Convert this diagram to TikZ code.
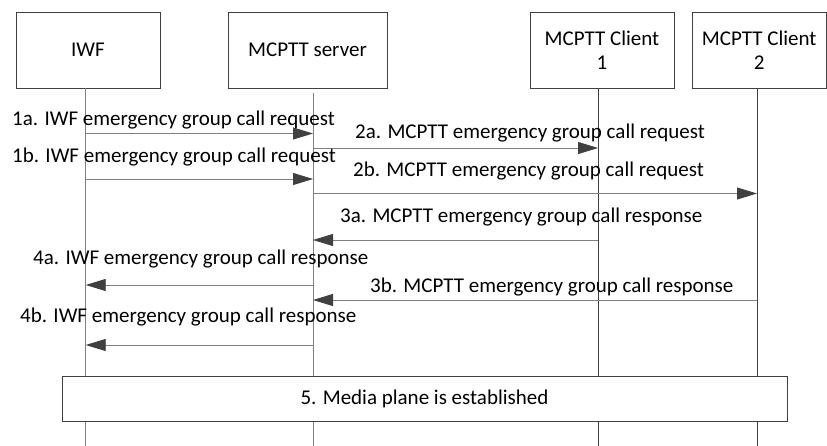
\documentclass[tikz,border=0pt]{standalone}
\usepackage{fontspec}
\setmainfont{Carlito}
\usetikzlibrary{arrows.meta}
\definecolor{linegray}{HTML}{808080}
\definecolor{headgray}{HTML}{404040}
\definecolor{lifedark}{HTML}{404040}
\begin{document}
\begin{tikzpicture}[x=1pt,y=-1pt,
  every node/.style={font=\fontsize{21}{24}\selectfont, inner sep=0pt},
  actor/.style={draw=headgray, line width=0.9pt, minimum height=75.5pt, align=center},
  msg/.style={draw=linegray, line width=0.9pt, -{Triangle[length=20pt,width=12pt,fill=headgray,color=headgray]}},
  lifegray/.style={draw=linegray, line width=0.9pt},
  lifeblack/.style={draw=lifedark, line width=0.9pt},
  lbl/.style={anchor=base west}]
\useasboundingbox (0,0) rectangle (827,446);

% actors
\node[actor, minimum width=144pt] (iwf) at (88,50.25) {IWF};
\node[actor, minimum width=159pt] (srv) at (307.5,50.25) {MCPTT server};
\node[actor, minimum width=144pt] (c1) at (602,50.25) {MCPTT Client\\1};
\node[actor, minimum width=134.5pt] (c2) at (759.25,50.25) {MCPTT Client\\2};

% lifeline ends
\coordinate (Liwf) at (85.7,446);
\coordinate (Lsrv) at (313,446);
\coordinate (Lc1) at (598,446);
\coordinate (Lc2) at (757,446);
\coordinate (srvtop) at (313,93);

\draw[lifegray] (Liwf |- iwf.south) -- (Liwf);
\draw[lifegray] (srvtop) -- (Lsrv);
\draw[lifeblack] (Lc1 |- c1.south) -- (Lc1);
\draw[lifeblack] (Lc2 |- c2.south) -- (Lc2);

% message rows
\coordinate (m1a) at (0,133.5);
\coordinate (m2a) at (0,148);
\coordinate (m1b) at (0,179);
\coordinate (m2b) at (0,193.5);
\coordinate (m3a) at (0,240);
\coordinate (m4a) at (0,285);
\coordinate (m3b) at (0,300);
\coordinate (m4b) at (0,345);

\draw[msg] (Liwf |- m1a) -- (Lsrv |- m1a);
\draw[msg] (Lsrv |- m2a) -- (Lc1 |- m2a);
\draw[msg] (Liwf |- m1b) -- (Lsrv |- m1b);
\draw[msg] (Lsrv |- m2b) -- (Lc2 |- m2b);
\draw[msg] (Lc1 |- m3a) -- (Lsrv |- m3a);
\draw[msg] (Lsrv |- m4a) -- (Liwf |- m4a);
\draw[msg] (Lc2 |- m3b) -- (Lsrv |- m3b);
\draw[msg] (Lsrv |- m4b) -- (Liwf |- m4b);

% labels
\node[lbl] (t1a) at (12,126) {1a. IWF emergency group call request};
\node[lbl] (t1b) at (12,163) {1b. IWF emergency group call request};
\node[lbl] (t2a) at (355,139) {2a. MCPTT emergency group call request};
\node[lbl] (t2b) at (353,177) {2b. MCPTT emergency group call request};
\node[lbl] (t3a) at (340,223) {3a. MCPTT emergency group call response};
\node[lbl] (t4a) at (33,265) {4a. IWF emergency group call response};
\node[lbl] (t3b) at (370,292) {3b. MCPTT emergency group call response};
\node[lbl] (t4b) at (20,323) {4b. IWF emergency group call response};

% media plane box
\node[draw=headgray, fill=white, line width=0.9pt, minimum width=725pt, minimum height=45pt] (media) at (424.5,398.5) {5. Media plane is established};
\end{tikzpicture}
\end{document}
